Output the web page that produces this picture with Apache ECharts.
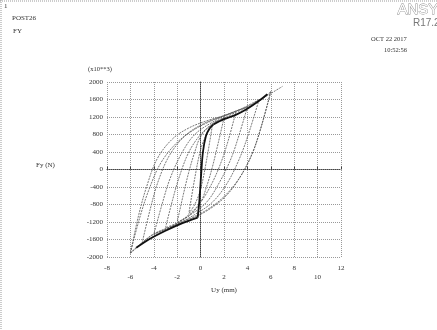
<!DOCTYPE html>
<html>
<head>
<meta charset="utf-8">
<script src="https://cdn.jsdelivr.net/npm/echarts@6/dist/echarts.min.js"></script>
<style>
  html, body { margin: 0; padding: 0; background: #fff; }
  #chart { width: 437px; height: 330px; }
</style>
</head>
<body>
<div id="chart"></div>
<script>
// axis ticks
const xTicks = [-8, -6, -4, -2, 0, 2, 4, 6, 8, 10, 12]
const yTicks = [-2000, -1600, -1200, -800, -400, 0, 400, 800, 1200, 1600, 2000]

// hysteresis branches, [Uy mm, Fy]
const cycle1 = [[1, 1000], [0.5, 200], [0, -450], [-0.5, -800], [-1, -1000],
                [-0.5, -200], [0, 450], [0.5, 800], [1, 1000]]
const cycle2 = [[2, 1180], [1.5, 600], [1, 50], [0.5, -400], [0, -750], [-1, -1060], [-2, -1200],
                [-1.5, -600], [-1, -50], [-0.5, 400], [0, 750], [1, 1050], [2, 1180]]
const cycle3 = [[3, 1300], [2.4, 700], [1.8, 200], [1, -300], [0, -750], [-1, -1030], [-2, -1220], [-3, -1330],
                [-2.4, -700], [-1.8, -150], [-1, 400], [0, 800], [1, 1030], [2, 1180], [3, 1300]]
const cycle4 = [[4, 1430], [3.3, 800], [2.6, 250], [1.6, -300], [0.5, -750], [-1, -1060], [-2.5, -1300], [-4, -1480],
                [-3.3, -800], [-2.6, -200], [-1.6, 380], [-0.5, 800], [1, 1080], [2.5, 1280], [4, 1430]]
const cycle5 = [[5, 1600], [4.2, 900], [3.4, 300], [2.3, -300], [1, -750], [-0.5, -1030], [-2, -1250], [-3.5, -1450], [-5, -1680],
                [-4.3, -900], [-3.6, -250], [-2.6, 350], [-1.2, 800], [0.5, 1080], [2, 1230], [3.5, 1390], [5, 1600]]
const cycle6 = [[6, 1780], [5.1, 900], [4.3, 300], [3.2, -250], [2, -650], [0.5, -950], [-1, -1150], [-2.5, -1320], [-4, -1480], [-5, -1680], [-6, -1920],
                [-5.3, -1050], [-4.6, -380], [-3.7, 250], [-2.4, 700], [-1, 950], [0.5, 1110], [2, 1230], [3.5, 1360], [5, 1560], [6, 1780]]
const finalUnload = [[6, 1780], [5.2, 1000], [4.4, 350], [3.3, -200], [2, -620], [0.5, -930], [-1, -1130], [-2.5, -1300], [-4, -1470], [-5, -1670], [-6, -1900]]
const finalLoad = [[-6, -1900], [-5.2, -1100], [-4.4, -450], [-3.4, 150], [-2, 620], [-0.5, 920], [1, 1120], [2.5, 1280], [4, 1440], [5.5, 1660], [7, 1900]]

// dense bands where many cycles overlap
const coreBand = [[-0.25, -1100], [-0.1, -700], [0.05, -100], [0.2, 400], [0.45, 760], [0.75, 930], [1.1, 1030]]
const upperBand = [[1.1, 1030], [2, 1150], [3, 1250], [4, 1390], [5, 1570], [5.7, 1720]]
const lowerBand = [[-0.25, -1100], [-1.5, -1220], [-3, -1400], [-4.5, -1610], [-5.5, -1790]]

const branches = [cycle1, cycle2, cycle3, cycle4, cycle5, cycle6, finalUnload, finalLoad]
const bands = [coreBand, upperBand, lowerBand]

const chart = echarts.init(document.getElementById('chart'))

const txt = (left, top, text, size, extra) => ({
  type: 'text', left, top,
  style: Object.assign({ text, fontSize: size, fontFamily: 'Liberation Serif', fill: '#333' }, extra || {})
})

const lineSeries = (data, width, color, dash) => ({
  type: 'line',
  data,
  smooth: 0.35,
  symbol: 'none',
  silent: true,
  lineStyle: { width, color, type: dash }
})

const option = {
  animation: false,
  grid: { left: 107, right: 96, top: 82, bottom: 73, containLabel: false },
  xAxis: {
    type: 'value',
    min: xTicks[0],
    max: xTicks[xTicks.length - 1],
    interval: 2,
    name: 'Uy (mm)',
    nameLocation: 'middle',
    nameGap: 18,
    nameTextStyle: { fontSize: 7, fontFamily: 'Liberation Serif', color: '#333' },
    axisLine: { lineStyle: { color: '#444', type: 'dotted', width: 1 } },
    axisTick: { show: true, inside: true, length: 3, lineStyle: { color: '#444' } },
    axisLabel: {
      fontSize: 7, fontFamily: 'Liberation Serif', color: '#333', margin: 7, lineHeight: 9,
      formatter: v => (Math.abs(v / 2) % 2 === 1 ? '\n' + v : v + '')
    },
    splitLine: { show: true, lineStyle: { color: '#999', type: 'dotted', width: 1 } }
  },
  yAxis: {
    type: 'value',
    min: yTicks[0],
    max: yTicks[yTicks.length - 1],
    interval: 400,
    axisLine: { show: true, lineStyle: { color: '#444', type: 'dotted', width: 1 } },
    axisTick: { show: false },
    axisLabel: { fontSize: 7, fontFamily: 'Liberation Serif', color: '#333', margin: 4, formatter: v => v + '' },
    splitLine: { show: true, lineStyle: { color: '#999', type: 'dotted', width: 1 } }
  },
  graphic: [
    { type: 'line', shape: { x1: 0, y1: 1, x2: 437, y2: 1 }, style: { stroke: '#999', lineDash: [1, 1] } },
    { type: 'line', shape: { x1: 1, y1: 0, x2: 1, y2: 330 }, style: { stroke: '#999', lineDash: [1, 1] } },
    txt(4, 3, '1', 7),
    txt(12, 15, 'POST26', 7),
    txt(13, 28, 'FY', 7),
    txt(397, 2, 'ANSYS', 15, { fill: '#fff', stroke: '#888', lineWidth: 0.8, fontFamily: 'Liberation Sans' }),
    txt(413, 18, 'R17.2', 10, { fill: '#777', fontFamily: 'Liberation Sans' }),
    txt(371, 36, 'OCT 22 2017', 6.5),
    txt(384, 47, '10:52:56', 6.5),
    txt(88, 66, '(x10**3)', 6.5),
    txt(36, 162, 'Fy (N)', 7)
  ],
  series: branches.map(b => lineSeries(b, 0.8, '#555', [2, 1])).concat(
    bands.map(b => lineSeries(b, 1.8, '#111', 'solid'))
  )
}

chart.setOption(option)
</script>
</body>
</html>
